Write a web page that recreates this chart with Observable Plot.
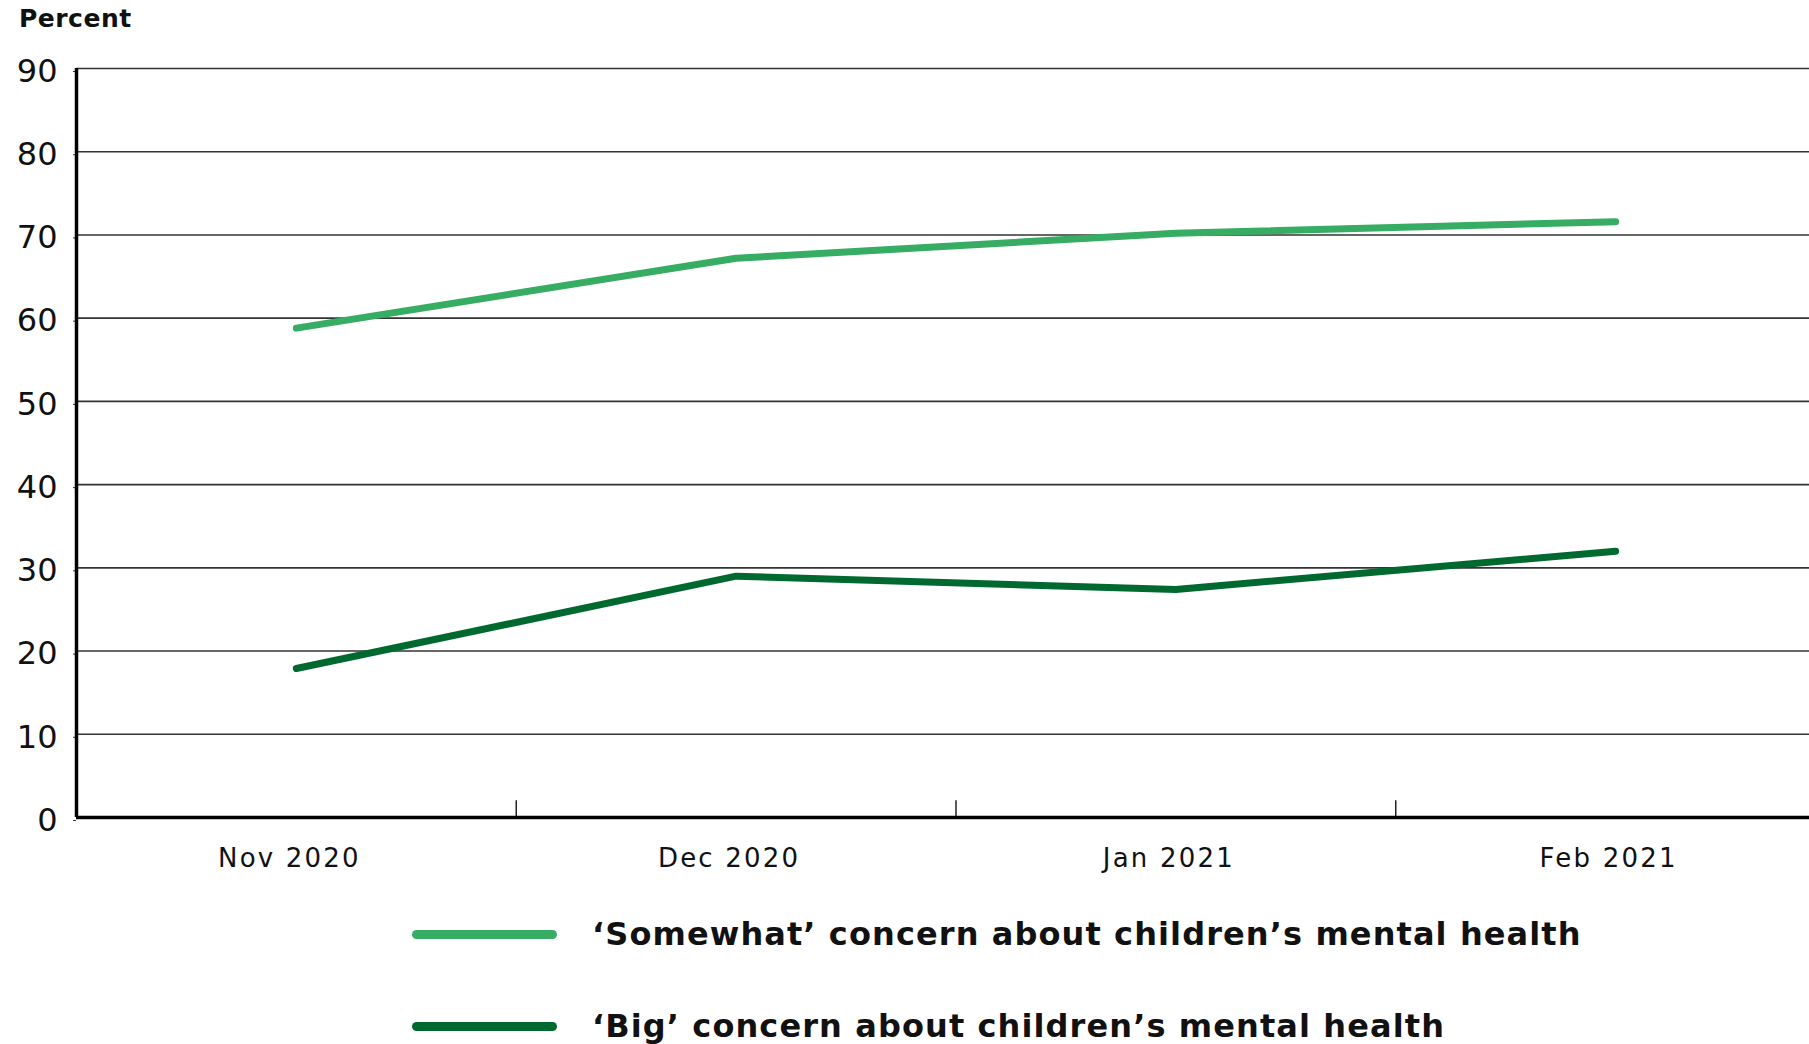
<!DOCTYPE html>
<html>
<head>
<meta charset="utf-8">
<script src="https://cdn.jsdelivr.net/npm/d3@7"></script>
<script src="https://cdn.jsdelivr.net/npm/@observablehq/plot@0.6"></script>
<style>
  html, body { margin: 0; padding: 0; background: #fff; }
  body { width: 1809px; height: 1044px; overflow: hidden; font-family: "DejaVu Sans", sans-serif; color: #111; }
  #ylabel { height: 37px; line-height: 37px; padding-left: 19px; font-weight: 700; font-size: 25px; letter-spacing: 0.5px; }
  #chart svg { display: block; }
  #chart g[aria-label="x-axis tick label"] text { letter-spacing: 2.2px; }
  #legend { margin-top: 34px; }
  .row { display: flex; align-items: center; height: 46px; margin-bottom: 46px; }
  .sw { width: 145px; height: 9px; border-radius: 5px; margin-left: 412px; margin-right: 35px; }
  .lt { font-weight: 700; font-size: 32px; white-space: nowrap; letter-spacing: 1.1px; }
</style>
</head>
<body>
<div id="ylabel">Percent</div>
<div id="chart"></div>
<div id="legend"></div>
<script>
const months = ["Nov 2020", "Dec 2020", "Jan 2021", "Feb 2021"];
const somewhat = [58.8, 67.2, 70.2, 71.6];
const big = [17.9, 29.0, 27.4, 32.0];
const seriesNames = [
  "\u2018Somewhat\u2019 concern about children\u2019s mental health",
  "\u2018Big\u2019 concern about children\u2019s mental health"
];
const seriesColors = ["#36ad62", "#00692f"];
const yTicks = [0, 10, 20, 30, 40, 50, 60, 70, 80, 90];

const seriesValues = [somewhat, big];
const data = seriesValues.flatMap((vals, s) =>
  months.map((m, i) => ({ i, month: m, value: vals[i], series: seriesNames[s] }))
);
const xDomain = [-0.5, months.length - 0.5];
const dividers = d3.range(1, months.length).map(i => i - 0.5);

const chart = Plot.plot({
  width: 1809,
  height: 840,
  marginTop: 31,
  marginBottom: 60,
  marginLeft: 76,
  marginRight: 0,
  style: { fontFamily: "DejaVu Sans, sans-serif", background: "#fff", color: "#111" },
  x: { domain: xDomain, range: [76, 1835] },
  y: { domain: [0, 90] },
  color: { domain: seriesNames, range: seriesColors },
  marks: [
    Plot.ruleY(yTicks.filter(d => d > 0), { stroke: "#333", strokeWidth: 1.6 }),
    Plot.axisY({ ticks: yTicks, tickSize: 3, tickPadding: 16, fontSize: 32, label: null, stroke: "#333", dy: 3 }),
    Plot.axisX({ ticks: d3.range(months.length), tickFormat: i => months[i], tickSize: 0, tickPadding: 31, fontSize: 26, label: null, dx: -7 }),
    Plot.ruleX(dividers, { y1: 0, y2: 2, stroke: "#222", strokeWidth: 1.5 }),
    Plot.line(data, { x: "i", y: "value", stroke: "series", strokeWidth: 7, strokeLinecap: "round", strokeLinejoin: "round" }),
    Plot.ruleY([0], { stroke: "#000", strokeWidth: 3.5 }),
    Plot.ruleX([xDomain[0]], { y1: 0, y2: 90, stroke: "#000", strokeWidth: 3.5 })
  ]
});
document.getElementById("chart").appendChild(chart);

const legend = document.getElementById("legend");
seriesNames.forEach((name, s) => {
  const row = document.createElement("div");
  row.className = "row";
  const sw = document.createElement("div");
  sw.className = "sw";
  sw.style.background = seriesColors[s];
  const lt = document.createElement("div");
  lt.className = "lt";
  lt.textContent = name;
  row.appendChild(sw);
  row.appendChild(lt);
  legend.appendChild(row);
});
</script>
</body>
</html>
